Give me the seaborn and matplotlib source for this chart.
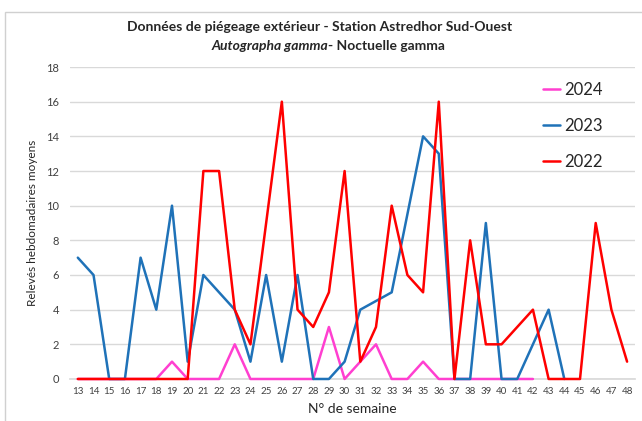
import pandas as pd
import matplotlib.pyplot as plt
import seaborn as sns
from matplotlib.patches import Rectangle

sns.set_theme(style="white")
plt.rcParams["font.family"] = ["Lato", "DejaVu Sans"]

# --- Daten ---
weeks_2024 = list(range(13, 43))
vals_2024 = [0, 0, 0, 0, 0, 0, 1, 0, 0, 0, 2, 0, 0, 0, 0, 0, 3, 0, 1, 2,
             0, 0, 1, 0, 0, 0, 0, 0, 0, 0]

weeks_2023 = list(range(13, 45))
vals_2023 = [7, 6, 0, 0, 7, 4, 10, 1, 6, 5, 4, 1, 6, 1, 6, 0, 0, 1, 4, 4.5,
             5, 9.5, 14, 13, 0, 0, 9, 0, 0, 2, 4, 0]

weeks_2022 = list(range(13, 49))
vals_2022 = [0, 0, 0, 0, 0, 0, 0, 0, 12, 12, 4, 2, 9, 16, 4, 3, 5, 12, 1, 3,
             10, 6, 5, 16, 0, 8, 2, 2, 3, 4, 0, 0, 0, 9, 4, 1]

series = [("2024", weeks_2024, vals_2024, "#FF3FD0"),
          ("2023", weeks_2023, vals_2023, "#1F72B8"),
          ("2022", weeks_2022, vals_2022, "#FF0000")]

# --- Diagramm ---
fig = plt.figure(figsize=(6.42, 4.21), dpi=100)
fig.patches.append(Rectangle((0.008, -0.01), 1.0, 0.982, transform=fig.transFigure,
                             fill=False, edgecolor="#D0D0D0", linewidth=1))
ax = fig.add_axes([0.109, 0.0998, 0.880, 0.741])

for i, (label, w, v, c) in enumerate(series):
    df = pd.DataFrame({"semaine": w, "valeur": v})
    sns.lineplot(data=df, x="semaine", y="valeur", ax=ax, color=c,
                 linewidth=1.8, label=label, zorder=3 + i)
for ln in ax.get_lines():
    ln.set_clip_on(False)

ax.set_xlim(12.5, 48.5)
ax.set_ylim(0, 18)
ax.set_yticks(range(0, 19, 2))
ax.set_xticks(range(13, 49))
ax.tick_params(axis="x", labelsize=7, length=0, pad=6, colors="#404040")
ax.tick_params(axis="y", labelsize=8, length=0, pad=8, colors="#404040")
ax.grid(axis="y", color="#D9D9D9", linewidth=1)
ax.set_axisbelow(True)
for s in ["top", "right", "left"]:
    ax.spines[s].set_visible(False)
ax.spines["bottom"].set_color("#D9D9D9")

ax.set_xlabel("N° de semaine", fontsize=10, color="#262626", labelpad=5)
ax.set_ylabel("Relevés hebdomadaires moyens", fontsize=8.5, color="#262626", labelpad=6)

leg = ax.legend(loc="upper left", bbox_to_anchor=(0.811, 1.0), frameon=False,
                fontsize=12, handlelength=1.0, handletextpad=0.25, labelspacing=1.2)
for t in leg.get_texts():
    t.set_color("#262626")

fig.text(0.497, 0.935, "Données de piégeage extérieur - Station Astredhor Sud-Ouest",
         ha="center", va="center", fontsize=10, fontweight="bold", color="#262626")
fig.text(0.511, 0.89, "Autographa gamma", ha="right", va="center", fontsize=10,
         fontweight="bold", fontstyle="italic", color="#262626")
fig.text(0.511, 0.89, "- Noctuelle gamma", ha="left", va="center", fontsize=10,
         fontweight="bold", color="#262626")

fig.savefig("out.png", dpi=100)
